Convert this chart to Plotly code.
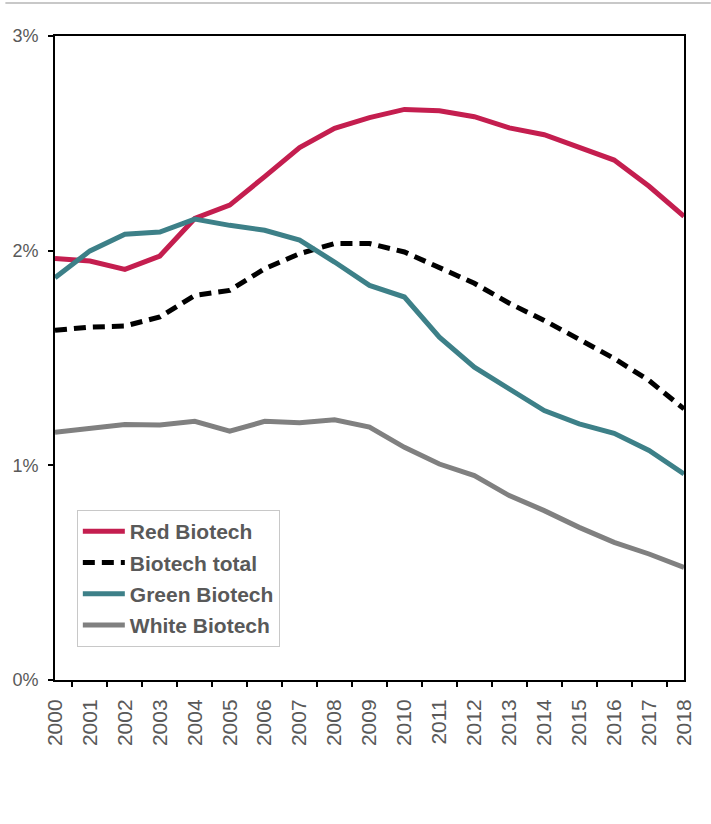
import plotly.graph_objects as go

years = [str(y) for y in range(2000, 2019)]

red_biotech = [1.963, 1.952, 1.913, 1.975, 2.15, 2.212, 2.345, 2.48, 2.57, 2.62,
               2.658, 2.652, 2.624, 2.572, 2.54, 2.484, 2.422, 2.30, 2.16]
biotech_total = [1.629, 1.644, 1.649, 1.691, 1.792, 1.815, 1.916, 1.986, 2.033, 2.033,
                 1.994, 1.924, 1.848, 1.755, 1.675, 1.587, 1.498, 1.395, 1.263]
green_biotech = [1.874, 1.999, 2.077, 2.087, 2.147, 2.118, 2.095, 2.049, 1.947, 1.838,
                 1.784, 1.597, 1.457, 1.356, 1.255, 1.193, 1.149, 1.069, 0.96]
white_biotech = [1.154, 1.174, 1.19, 1.188, 1.205, 1.159, 1.205, 1.198, 1.212, 1.178,
                 1.084, 1.006, 0.952, 0.859, 0.789, 0.711, 0.641, 0.587, 0.524]

y_ticks = [0, 1, 2, 3]
y_tick_labels = ["0%", "1%", "2%", "3%"]

series = [
    ("Red Biotech", red_biotech, "#C41E4F", "solid"),
    ("Biotech total", biotech_total, "#000000", "12px,7px"),
    ("Green Biotech", green_biotech, "#3D8088", "solid"),
    ("White Biotech", white_biotech, "#808080", "solid"),
]

fig = go.Figure()
for i, (name, vals, color, dash) in enumerate(series):
    fig.add_trace(go.Scatter(
        x=years, y=vals, name=name, mode="lines", legendgroup=f"g{i}",
        line=dict(color=color, width=5, dash=dash),
    ))

L, R, T, B = 50, 27, 36, 144
W, H = 711, 824
pw, ph = W - L - R, H - T - B

fig.update_layout(
    width=W, height=H,
    margin=dict(l=L, r=R, t=T, b=B),
    paper_bgcolor="white", plot_bgcolor="white",
    font=dict(family="Liberation Sans, Arial, sans-serif", color="#595959", size=18),
    showlegend=True,
    legend=dict(
        x=(72 - L) / pw, y=(H - B - 510) / ph, xanchor="left", yanchor="top",
        bgcolor="white", bordercolor="#c8c8c8", borderwidth=1,
        font=dict(size=21, color="#595959", family="Liberation Sans, Arial, sans-serif", weight="bold"),
        tracegroupgap=1, itemwidth=42,
    ),
    xaxis=dict(
        type="category", tickangle=-90, showgrid=False,
        showline=True, linecolor="black", linewidth=2, mirror=True,
        ticks="outside", tickson="boundaries", ticklen=5, tickcolor="black", tickwidth=2,
        tickfont=dict(size=21, color="#595959"), ticklabelstandoff=9,
    ),
    yaxis=dict(
        range=[0, 3], tickvals=y_ticks, ticktext=y_tick_labels, showgrid=False,
        showline=True, linecolor="black", linewidth=2, mirror=True,
        ticks="outside", ticklen=5, tickcolor="black", tickwidth=2,
        tickfont=dict(size=18, color="#595959"), zeroline=False, ticklabelstandoff=6,
    ),
    shapes=[dict(type="line", xref="paper", yref="paper",
                 x0=-L / pw, x1=(W - L) / pw, y0=(H - B - 3) / ph, y1=(H - B - 3) / ph,
                 line=dict(color="#c8c8c8", width=2))],
)

fig.write_html("out.html", config={"displayModeBar": False},
               post_script="document.body.style.margin='0';")
